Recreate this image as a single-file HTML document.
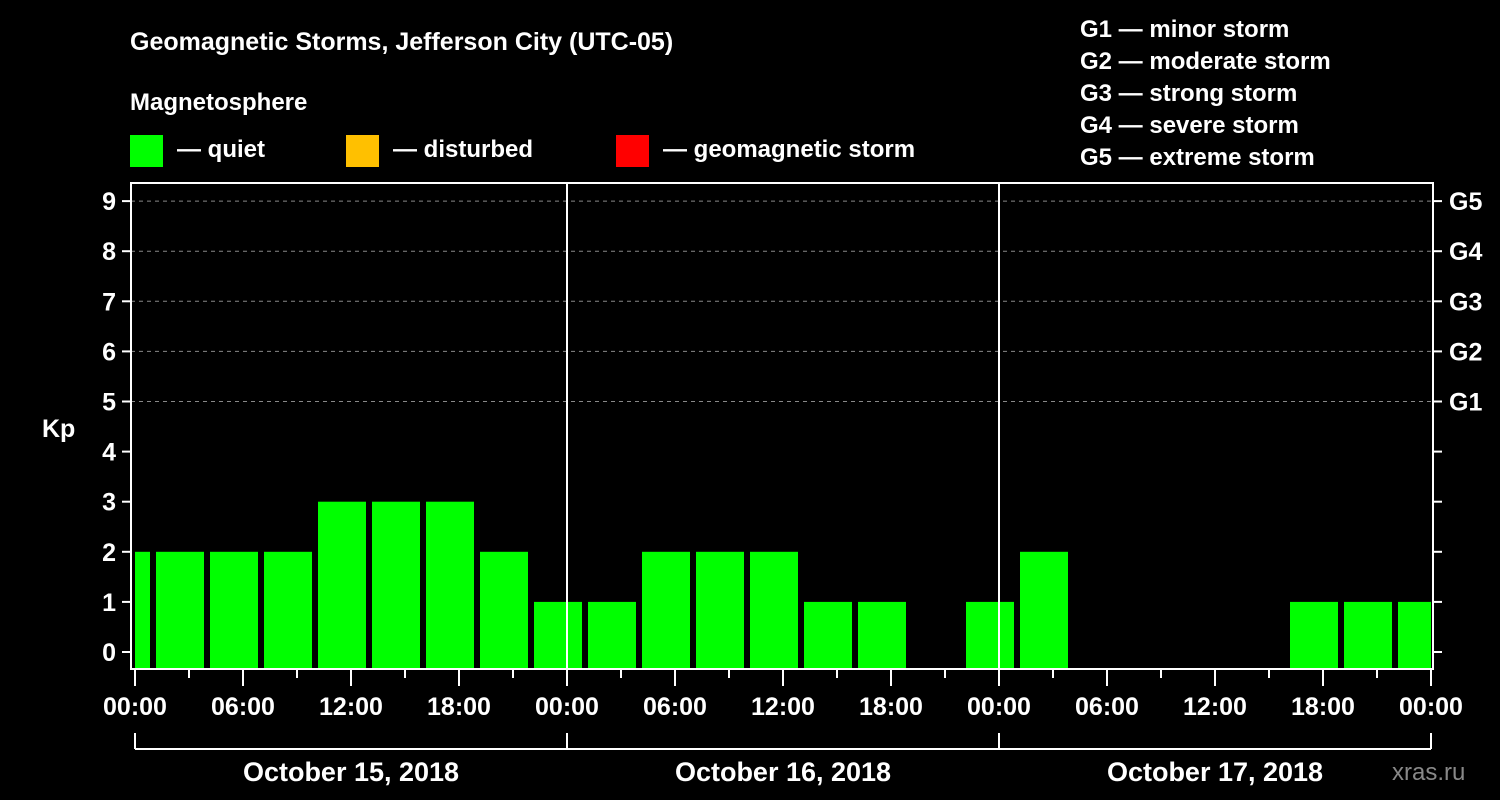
<!DOCTYPE html>
<html><head><meta charset="utf-8"><style>
body{margin:0;background:#000;}
svg{display:block;font-family:"Liberation Sans",Arial,sans-serif;font-weight:bold;}
</style></head><body>
<svg width="1500" height="800" viewBox="0 0 1500 800" xmlns="http://www.w3.org/2000/svg">
<rect width="1500" height="800" fill="#000"/>
<text x="130" y="50" fill="#fff" font-size="25">Geomagnetic Storms, Jefferson City (UTC-05)</text>
<text x="130" y="110" fill="#fff" font-size="24">Magnetosphere</text>
<rect x="130" y="135" width="33" height="32" fill="#00ff00"/>
<text x="177" y="157" fill="#fff" font-size="24">— quiet</text>
<rect x="346" y="135" width="33" height="32" fill="#ffc000"/>
<text x="393" y="157" fill="#fff" font-size="24">— disturbed</text>
<rect x="616" y="135" width="33" height="32" fill="#ff0000"/>
<text x="663" y="157" fill="#fff" font-size="24">— geomagnetic storm</text>
<g fill="#fff" font-size="24">
<text x="1080" y="37">G1 — minor storm</text>
<text x="1080" y="69">G2 — moderate storm</text>
<text x="1080" y="101">G3 — strong storm</text>
<text x="1080" y="133">G4 — severe storm</text>
<text x="1080" y="165">G5 — extreme storm</text>
</g>
<text x="42" y="437" fill="#fff" font-size="25">Kp</text>
<text x="1392" y="780" fill="#888" font-size="24" font-weight="normal">xras.ru</text>
<g id="plot"></g>
</svg>
<script>
const values = [2, 2,2,2,3,3,3,2,1, 1,2,2,2,1,1,null,1, 2,null,null,null,null,1,1,1];
const yTicks = [0,1,2,3,4,5,6,7,8,9];
const gLabels = ['G1','G2','G3','G4','G5'];
const xTickLabels = ['00:00','06:00','12:00','18:00','00:00','06:00','12:00','18:00','00:00','06:00','12:00','18:00','00:00'];
const dateLabels = ['October 15, 2018','October 16, 2018','October 17, 2018'];
const NS='http://www.w3.org/2000/svg';
const g=document.getElementById('plot');
const L=131,R=1433,T=183,B=669,X0=135,XPH=18;
const x=h=>X0+h*XPH, y=v=>652-v*50.1;
function el(tag,attrs,txt){const e=document.createElementNS(NS,tag);for(const k in attrs)e.setAttribute(k,attrs[k]);if(txt!=null)e.textContent=txt;g.appendChild(e);return e;}
// grid
yTicks.filter(v=>v>=5).forEach(v=>{const e=el('line',{x1:L,x2:R,y1:y(v),y2:y(v),stroke:'#888','stroke-dasharray':'4,4','stroke-width':1});

});
// bars
values.forEach((v,k)=>{if(v==null)return;const s=-2+3*k;let x1=x(s)+3,x2=x(s+3)-3;x1=Math.max(x1,X0);x2=Math.min(x2,x(72));
const e=el('rect',{x:x1,y:y(v),width:x2-x1,height:B-y(v),fill:'#00ff00'});

});
// day dividers
[24,48].forEach(h=>{const e=el('line',{x1:x(h),x2:x(h),y1:T,y2:B,stroke:'#fff','stroke-width':2});

});
// frame
const fr=el('rect',{x:L,y:T,width:R-L,height:B-T,fill:'none',stroke:'#fff','stroke-width':2});


// y ticks
yTicks.forEach(v=>{el('line',{x1:122,x2:L,y1:y(v),y2:y(v),stroke:'#fff','stroke-width':2});
el('line',{x1:R,x2:1442,y1:y(v),y2:y(v),stroke:'#fff','stroke-width':2});
const t=el('text',{x:116,y:y(v)+9,fill:'#fff','font-size':25,'text-anchor':'end'},v);

});
gLabels.forEach((s,i)=>{const t=el('text',{x:1449,y:y(5+i)+9,fill:'#fff','font-size':25},s);

});
// x ticks
for(let h=0;h<=72;h+=3){const major=h%6==0;el('line',{x1:x(h),x2:x(h),y1:B,y2:major?686:678,stroke:'#fff','stroke-width':2});}
xTickLabels.forEach((s,i)=>{const t=el('text',{x:x(i*6),y:715,fill:'#fff','font-size':25,'text-anchor':'middle'},s);

});
// date bracket
el('line',{x1:x(0),x2:x(72),y1:749,y2:749,stroke:'#fff','stroke-width':2});
[0,24,48,72].forEach(h=>el('line',{x1:x(h),x2:x(h),y1:733,y2:749,stroke:'#fff','stroke-width':2}));
dateLabels.forEach((s,i)=>{const t=el('text',{x:x(i*24+12),y:781,fill:'#fff','font-size':27,'text-anchor':'middle'},s);

});
</script>
</body></html>
